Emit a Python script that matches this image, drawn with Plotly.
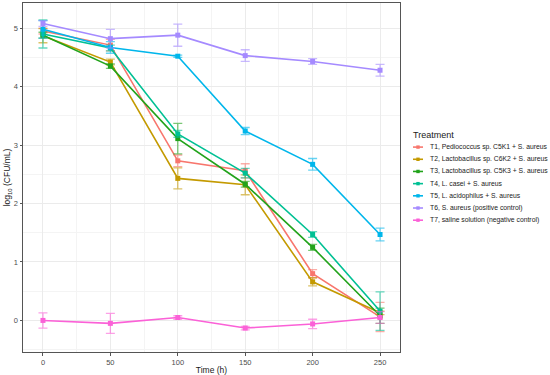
import plotly.graph_objects as go

time_h = [0, 50, 100, 150, 200, 250]

names = [
    "T1, Pediococcus sp. C5K1 + S. aureus",
    "T2, Lactobacillus sp. C6K2 + S. aureus",
    "T3, Lactobacillus sp. C5K3 + S. aureus",
    "T4, L. casei + S. aureus",
    "T5, L. acidophilus + S. aureus",
    "T6, S. aureus (positive control)",
    "T7, saline solution (negative control)",
]

t1_mean = [4.95, 4.71, 2.73, 2.56, 0.80, 0.06]
t1_sd = [0.05, 0.10, 0.10, 0.12, 0.07, 0.25]
t2_mean = [4.87, 4.42, 2.43, 2.32, 0.66, 0.13]
t2_sd = [0.12, 0.05, 0.18, 0.17, 0.07, 0.03]
t3_mean = [4.88, 4.35, 3.11, 2.33, 1.25, 0.08]
t3_sd = [0.05, 0.04, 0.26, 0.05, 0.05, 0.13]
t4_mean = [4.90, 4.66, 3.19, 2.52, 1.47, 0.16]
t4_sd = [0.24, 0.05, 0.06, 0.08, 0.05, 0.33]
t5_mean = [4.98, 4.67, 4.52, 3.24, 2.67, 1.47]
t5_sd = [0.15, 0.10, 0.02, 0.06, 0.10, 0.11]
t6_mean = [5.08, 4.82, 4.88, 4.53, 4.43, 4.28]
t6_sd = [0.05, 0.16, 0.19, 0.10, 0.05, 0.10]
t7_mean = [0.00, -0.05, 0.05, -0.13, -0.06, 0.05]
t7_sd = [0.13, 0.17, 0.03, 0.03, 0.08, 0.10]

means = [t1_mean, t2_mean, t3_mean, t4_mean, t5_mean, t6_mean, t7_mean]
sds = [t1_sd, t2_sd, t3_sd, t4_sd, t5_sd, t6_sd, t7_sd]
colors = ["#F8766D", "#C49A00", "#22A31B", "#00C094", "#00B6EB", "#A58AFF", "#FB61D7"]


def rgba(h, a):
    h = h.lstrip("#")
    return "rgba(%d,%d,%d,%.2f)" % (int(h[0:2], 16), int(h[2:4], 16), int(h[4:6], 16), a)


W, H = 550, 375
L, R, T, B = 23, 150, 3, 22.5
PW, PH = W - L - R, H - T - B


def px(xp):
    return (xp - L) / PW


def py(yp):
    return (H - B - yp) / PH


fig = go.Figure()
for n, m, s, c in zip(names, means, sds, colors):
    fig.add_trace(go.Scatter(
        x=time_h, y=m, name=n, mode="lines+markers", showlegend=False,
        line=dict(color=c, width=1.6),
        marker=dict(color=c, size=5, symbol="square"),
        error_y=dict(type="data", array=s, visible=True, color=rgba(c, 0.6),
                     thickness=1.3, width=4.5),
    ))

font = "Liberation Sans, Arial, sans-serif"

# manual legend (ggplot-style compact spacing)
shapes = []
annotations = [dict(
    text="Treatment", xref="paper", yref="paper", x=px(411), y=py(135),
    xanchor="left", yanchor="middle", showarrow=False,
    font=dict(size=9, color="#1a1a1a", family=font),
)]
for i, (n, c) in enumerate(zip(names, colors)):
    yy = py(147.3 + i * 12.2)
    shapes.append(dict(type="line", xref="paper", yref="paper",
                       x0=px(413), x1=px(423), y0=yy, y1=yy,
                       line=dict(color=c, width=1.6)))
    shapes.append(dict(type="rect", xref="paper", yref="paper",
                       x0=px(416.3), x1=px(419.7), y0=yy - 1.7 / PH, y1=yy + 1.7 / PH,
                       fillcolor=c, line=dict(width=0)))
    annotations.append(dict(
        text=n, xref="paper", yref="paper", x=px(427.5), y=yy,
        xanchor="left", yanchor="middle", showarrow=False,
        font=dict(size=6.8, color="#1a1a1a", family=font),
    ))

fig.update_layout(
    width=W, height=H,
    margin=dict(l=L, r=R, t=T, b=B, autoexpand=False),
    paper_bgcolor="white", plot_bgcolor="white",
    font=dict(family=font, size=8, color="#1a1a1a"),
    showlegend=False,
    shapes=shapes, annotations=annotations,
    xaxis=dict(
        range=[-14.8, 264.8], tickvals=time_h, ticktext=[str(t) for t in time_h],
        showgrid=True, gridcolor="#EBEBEB", gridwidth=1,
        minor=dict(tickvals=[25, 75, 125, 175, 225], showgrid=True, gridcolor="#F4F4F4", gridwidth=0.6),
        ticks="outside", ticklen=2.5, tickcolor="#555555", tickwidth=1,
        tickfont=dict(size=7.5, color="#4D4D4D"),
        showline=True, linecolor="#555555", linewidth=1, mirror=True,
        zeroline=False, automargin=False,
        title=dict(text="Time (h)", font=dict(size=8.5, color="#1a1a1a"), standoff=1),
    ),
    yaxis=dict(
        range=[-0.54, 5.43], tickvals=[0, 1, 2, 3, 4, 5],
        showgrid=True, gridcolor="#EBEBEB", gridwidth=1,
        minor=dict(tickvals=[-0.5, 0.5, 1.5, 2.5, 3.5, 4.5], showgrid=True, gridcolor="#F4F4F4", gridwidth=0.6),
        ticks="outside", ticklen=2.5, tickcolor="#555555", tickwidth=1,
        tickfont=dict(size=7.5, color="#4D4D4D"),
        showline=True, linecolor="#555555", linewidth=1, mirror=True,
        zeroline=False, automargin=False,
        title=dict(text="log<sub>10</sub> (CFU/mL)", font=dict(size=8.5, color="#1a1a1a"), standoff=1),
    ),
)

fig.write_html("out.html", config={"displayModeBar": False},
               post_script="document.body.style.margin='0';")
